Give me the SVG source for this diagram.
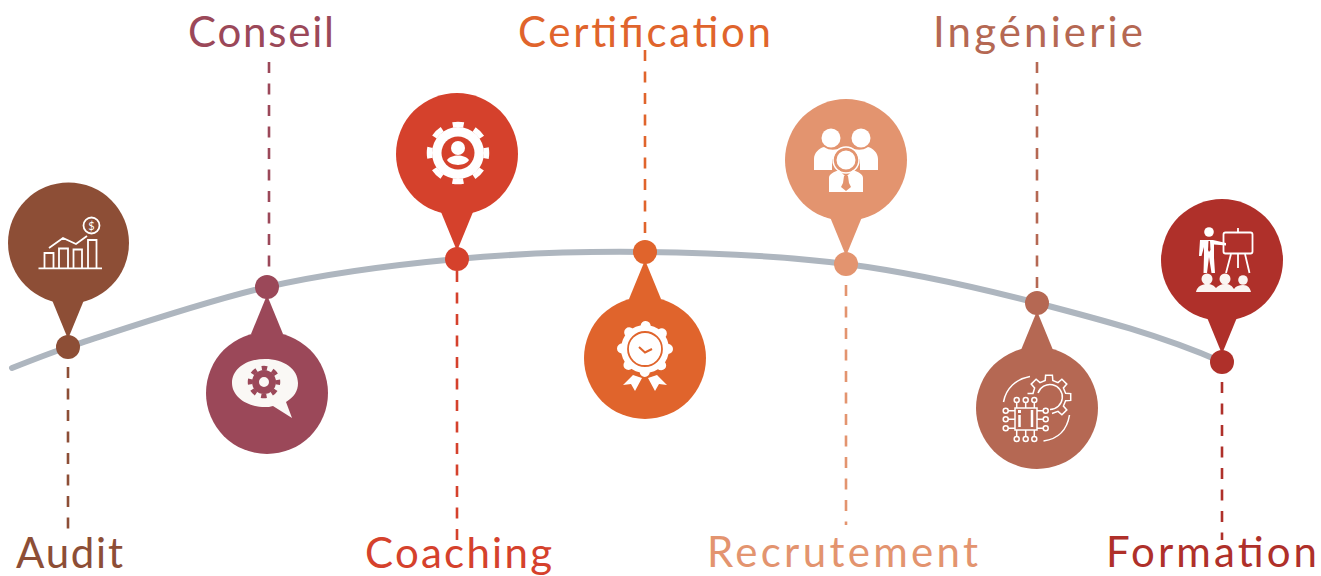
<svg xmlns="http://www.w3.org/2000/svg" width="1321" height="576" viewBox="0 0 1321 576">
<style>
text{font-family:"Lato","Open Sans","Liberation Sans",sans-serif;font-size:42px}
.dash{fill:none;stroke-width:2.6;stroke-dasharray:11 10.5}
.w{fill:#fff}
.o{fill:none;stroke:#fff;stroke-width:1.8}
.o2{fill:none;stroke:#fff;stroke-width:1.5}
</style>
<defs>
<path id="pinUp" d="M-16 -47L16 -47L0 -8Z"/>
<path id="pinDown" d="M-16 47L16 47L0 8Z"/>
</defs>
<rect width="1321" height="576" fill="#fff"/>
<g id="connectors">
<path id="curve" d="M12 368C31 360.500 49 353.500 68 347C110.500 333.500 202.200 301.700 267 287C331.800 272.300 394 264.800 457 259C520 253.200 580.200 251.200 645 252C709.800 252.800 780.700 255.500 846 264C911.300 272.500 974.300 286.700 1037 303C1099.700 319.300 1160 335 1222 362" fill="none" stroke="#AEB6BF" stroke-width="6" stroke-linecap="round"/>
<path class="dash" stroke="#8D4E36" d="M68 367V530"/>
<path class="dash" stroke="#9B4859" d="M269 62V270"/>
<path class="dash" stroke="#D5412C" d="M457 271V540"/>
<path class="dash" stroke="#E0642C" d="M645 50V235"/>
<path class="dash" stroke="#E3946F" d="M846 285V525"/>
<path class="dash" stroke="#B56853" d="M1037 62V288"/>
<path class="dash" stroke="#AF302A" d="M1222 382V540"/>
</g>
<g id="audit" fill="#8D4E36">
<circle cx="68.500" cy="243" r="60.500"/><use href="#pinUp" transform="translate(68 347)"/><circle cx="68" cy="347" r="12"/>
<path class="o" d="M38.500 268.300H102M44.500 268V253H53.500V268M59 268V248.500H68V268M73.500 268V249.500H82V268M88 268V240H96.500V268M49 248L63 238L76 244L87 236"/>
<circle class="o" cx="91.500" cy="225.500" r="8"/>
<text x="91.500" y="229.500" text-anchor="middle" fill="#fff" style="font-size:11px">$</text>
<text x="16" y="568" fill="#8D4E36" textLength="107">Audit</text>
</g>
<g id="conseil" fill="#9B4859">
<circle cx="267" cy="393" r="61"/><use href="#pinDown" transform="translate(267 287)"/><circle cx="267" cy="287" r="12"/>
<path fill="#FAF8F5" d="M265 359C284 359 298 369 298 383C298 391 294 397 286 402L292 418L273 406C270 407 268 407 265 407C246 407 232 396 232 383C232 369 246 359 265 359Z"/>
<circle cx="264" cy="382" r="8.500" fill="none" stroke="#9B4859" stroke-width="7"/>
<circle cx="264" cy="382" r="14" fill="none" stroke="#9B4859" stroke-width="4.500" stroke-dasharray="5.500 5.500" stroke-dashoffset="2.750"/>
<text x="188" y="47" fill="#9B4859" textLength="146">Conseil</text>
</g>
<g id="coaching" fill="#D5412C">
<circle cx="457" cy="154" r="61"/><use href="#pinDown" transform="translate(457 259) scale(1 -1)"/><circle cx="457" cy="259" r="12"/>
<circle cx="458" cy="153" r="26" fill="#fff"/>
<circle cx="458" cy="153" r="28.500" fill="none" stroke="#fff" stroke-width="5.500" stroke-dasharray="11 11.380" stroke-dashoffset="5.500"/>
<circle cx="458" cy="153" r="16.500" fill="#D5412C"/>
<circle cx="458" cy="148" r="7" fill="#fff"/>
<path class="w" d="M447 160C451 154 465 154 469 160C465 166.500 451 166.500 447 160Z"/>
<text x="365" y="568" fill="#D5412C" textLength="187">Coaching</text>
</g>
<g id="certification" fill="#E0642C">
<circle cx="645" cy="358" r="61"/><use href="#pinDown" transform="translate(645 252)"/><circle cx="645" cy="252" r="12"/>
<circle cx="645" cy="349" r="24" fill="#fff"/>
<circle cx="645" cy="349" r="23" fill="none" stroke="#fff" stroke-width="10" stroke-linecap="round" stroke-dasharray="0.010 18.055"/>
<circle cx="645" cy="349" r="17" fill="none" stroke="#E0642C" stroke-width="1.800"/>
<path d="M639 347L645 352.500L652 349" fill="none" stroke="#E0642C" stroke-width="2"/>
<path class="w" d="M633 375L642 378L635 391L631 384L623 385ZM657 375L648 378L655 391L659 384L667 385Z"/>
<text x="518" y="47" fill="#E0642C" textLength="253">Certification</text>
</g>
<g id="recrutement" fill="#E3946F">
<circle cx="846" cy="160" r="61"/><use href="#pinDown" transform="translate(846 264) scale(1 -1)"/><circle cx="846" cy="264" r="12"/>
<circle cx="831" cy="138" r="9.500" fill="#fff"/><circle cx="861" cy="138" r="9.500" fill="#fff"/>
<path class="w" d="M814 170V159C814 153 819 148 824 147C830 151 836 150 841 148L832 160V170ZM878 170V159C878 153 873 148 868 147C862 151 856 150 851 148L860 160V170Z"/>
<circle cx="846" cy="160" r="11" fill="#fff" stroke="#E3946F" stroke-width="3"/>
<circle cx="846" cy="160" r="13" fill="none" stroke="#fff" stroke-width="1.500"/>
<path class="w" d="M829 192V178C829 174 834 172 839 170L846 177L853 170C858 172 863 174 863 178V192Z"/>
<path d="M844 176H848L849 183L851 187L846 191L841 187L843 183Z" fill="#E3946F"/>
<text x="707" y="567" fill="#E3946F" textLength="271">Recrutement</text>
</g>
<g id="ingenierie" fill="#B56853">
<circle cx="1037" cy="408" r="61"/><use href="#pinDown" transform="translate(1037 303)"/><circle cx="1037" cy="303" r="12"/>
<path class="o2" d="M1003.500 402C1006 388 1016 379 1030 376.500M1069.500 415C1067 430 1058 439 1043.500 441"/>
<path class="o2" d="M1027.500 393.500H1033L1034.600 388L1031.200 384.100L1036.100 379.200L1040 382.600L1045.200 380.400L1045.600 375.300H1052.400L1052.800 380.400L1058 382.600L1061.900 379.200L1066.800 384.100L1063.400 388L1065.600 393.200L1070.700 393.600V400.400L1065.600 400.800L1063.400 406L1066.800 409.900L1061.900 414.800L1058 411.400L1052 413.500"/>
<path class="o2" d="M1038 393A12.500 12.500 0 1 1 1050 409.500"/>
<rect class="o2" x="1015" y="408" width="22" height="22"/>
<path fill="none" stroke="#fff" stroke-width="2.500" d="M1019.500 415V427M1032 410V427"/>
<path class="w" d="M1018 410h3v3h-3z"/>
<path class="o2" d="M1016.700 408V402.500M1025.700 408V402.500M1034.300 408V402.500M1016.700 430V436.500M1025.700 430V436.500M1034.300 430V436.500M1015 410.700H1008M1015 419.300H1008M1015 428.300H1008M1037 410.700H1043M1037 419.300H1043M1037 428.300H1043"/>
<g class="o2"><circle cx="1016.700" cy="400" r="2.500"/><circle cx="1025.700" cy="400" r="2.500"/><circle cx="1034.300" cy="400" r="2.500"/><circle cx="1016.700" cy="439" r="2.500"/><circle cx="1025.700" cy="439" r="2.500"/><circle cx="1034.300" cy="439" r="2.500"/><circle cx="1005.700" cy="410.700" r="2.500"/><circle cx="1005.700" cy="419.300" r="2.500"/><circle cx="1005.700" cy="428.300" r="2.500"/><circle cx="1045.700" cy="410.700" r="2.500"/><circle cx="1045.700" cy="419.300" r="2.500"/><circle cx="1045.700" cy="428.300" r="2.500"/></g>
<text x="933" y="47" fill="#B56853" textLength="210">Ingénierie</text>
</g>
<g id="formation" fill="#AF302A">
<circle cx="1222" cy="260" r="61"/><use href="#pinDown" transform="translate(1222 362) scale(1 -1)"/><circle cx="1222" cy="362" r="12"/>
<circle cx="1209" cy="232" r="4.800" fill="#fff"/>
<path class="w" d="M1200 240H1213L1226 243V245.500L1214 244.500L1214 258L1215 273H1211.500L1209 257L1207 273H1203.500L1204 255V247L1201.500 256H1199Z"/>
<path d="M1208.500 241H1210L1210.500 250L1209 252L1208 250Z" fill="#AF302A"/>
<rect x="1223.500" y="232.500" width="29" height="21" rx="2" fill="none" stroke="#fff" stroke-width="1.800"/>
<path class="o" d="M1238 228V232M1231 254L1226 273M1238 254V268M1245 254L1249.500 273"/>
<circle cx="1207" cy="279" r="5.500" fill="#FAF5F2"/><circle cx="1225" cy="279" r="5.500" fill="#FAF5F2"/><circle cx="1243" cy="280" r="4.800" fill="#FAF5F2"/>
<path fill="#FAF5F2" d="M1196 292C1197 286 1203 284 1207 284C1212 284 1214 286 1216 288C1218 286 1221 284 1225 284C1230 284 1232 286 1234 289C1236 286 1239 285 1243 285C1248 285 1250 288 1251 292Z"/>
<text x="1106" y="567" fill="#AF302A" textLength="211">Formation</text>
</g>
</svg>
